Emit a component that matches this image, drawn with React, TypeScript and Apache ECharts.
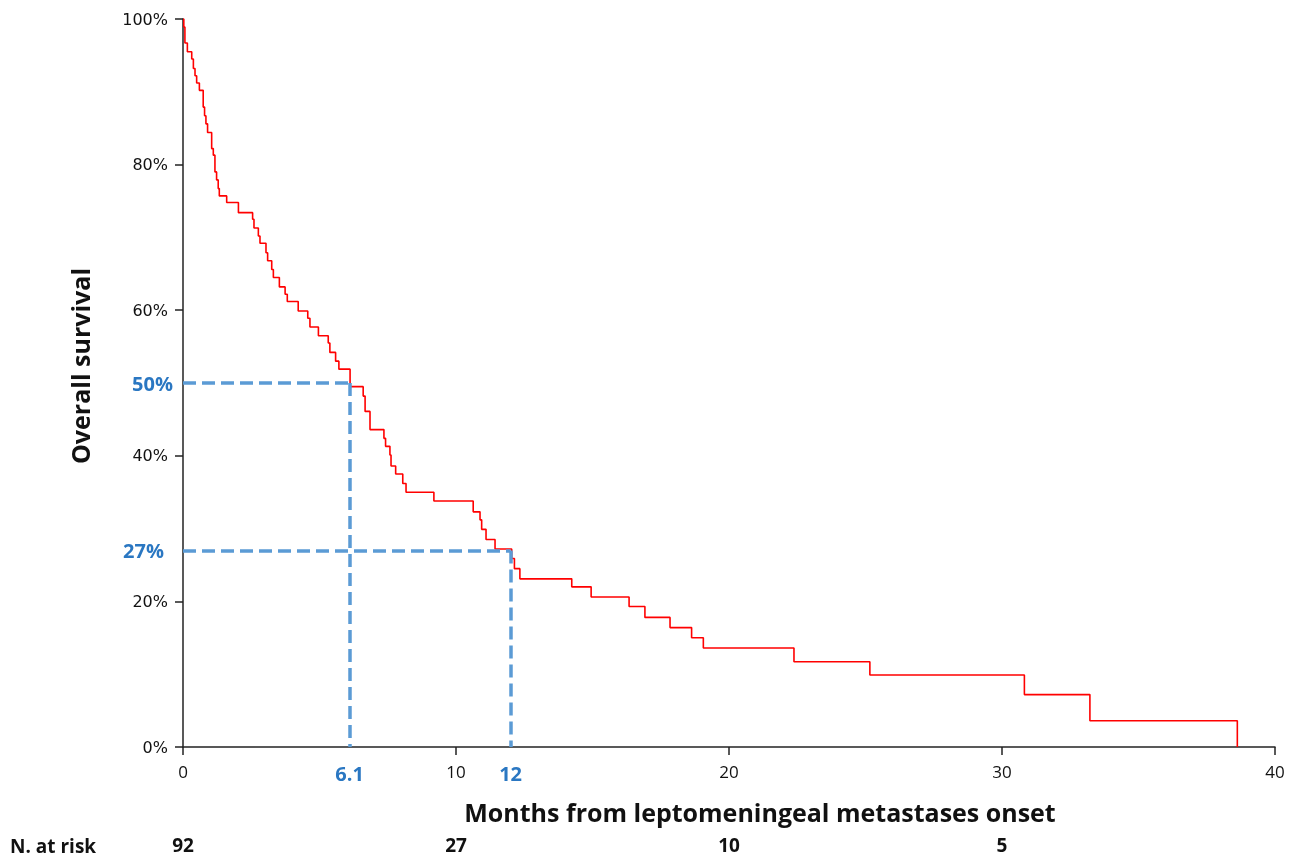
import React, { useEffect, useRef } from "react";
import * as echarts from "echarts";

const times = [0, 0.03, 0.07, 0.16, 0.32, 0.38, 0.44, 0.5, 0.6, 0.74, 0.79, 0.84, 0.9, 1.05, 1.11, 1.17, 1.23, 1.29, 1.33, 1.6, 2.03, 2.55, 2.6, 2.76, 2.82, 3.04, 3.1, 3.25, 3.31, 3.53, 3.74, 3.82, 4.22, 4.57, 4.65, 4.96, 5.32, 5.38, 5.59, 5.71, 6.12, 6.6, 6.67, 6.85, 7.36, 7.42, 7.58, 7.62, 7.79, 8.05, 8.17, 9.19, 10.63, 10.88, 10.94, 11.1, 11.43, 12.04, 12.14, 12.34, 14.24, 14.95, 16.34, 16.92, 17.84, 18.63, 19.06, 22.38, 25.16, 30.82, 33.22, 38.62];
const survival = [100, 98.9, 96.7, 95.5, 94.5, 93.2, 92.2, 91.2, 90.2, 87.9, 86.7, 85.6, 84.4, 82.2, 81.3, 79.0, 77.9, 76.7, 75.7, 74.8, 73.4, 72.5, 71.3, 70.2, 69.2, 67.9, 66.8, 65.6, 64.5, 63.2, 62.2, 61.2, 59.9, 58.9, 57.7, 56.5, 55.5, 54.2, 53.0, 51.9, 49.5, 48.2, 46.1, 43.6, 42.4, 41.3, 40.1, 38.6, 37.5, 36.2, 35.0, 33.8, 32.3, 31.2, 29.9, 28.5, 27.2, 25.9, 24.5, 23.1, 22.0, 20.6, 19.3, 17.8, 16.4, 15.0, 13.6, 11.7, 9.9, 7.2, 3.6, 0];

const medianTime = 6.1;
const medianSurv = 50;
const yearTime = 12;
const yearSurv = 27;

const riskTimes = [0, 10, 20, 30];
const riskCounts = [92, 27, 10, 5];

const xTitle = "Months from leptomeningeal metastases onset";
const yTitle = "Overall survival";
const riskTitle = "N. at risk";

const BLUE_LINE = "#5B9BD5";
const BLUE_TEXT = "#2A77C2";
const BOLD_FONT = "'Open Sans', 'Noto Sans', sans-serif";

export default function App() {
  const ref = useRef<HTMLDivElement>(null);
  useEffect(() => {
    if (!ref.current) return;
    const chart = echarts.init(ref.current, null, { renderer: "svg" });
    const lineStyle = { color: BLUE_LINE, width: 3.5, type: [13, 6] as any };
    const blueLabel = {
      color: BLUE_TEXT,
      fontFamily: BOLD_FONT,
      fontWeight: "bold" as const,
      fontSize: 20,
    };
    chart.setOption({
      animation: false,
      grid: { left: 183, right: 32, top: 19, bottom: 118, containLabel: false },
      xAxis: [
        {
          type: "value",
          min: 0,
          max: 40,
          interval: 10,
          splitLine: { show: false },
          axisLine: { lineStyle: { color: "#222", width: 1.5 } },
          axisTick: { show: true, length: 8, inside: false, lineStyle: { color: "#222", width: 1.5 } },
          axisLabel: { margin: 16, color: "#111", fontSize: 17, fontFamily: "'Open Sans', sans-serif" },
        },
        {
          type: "value",
          position: "bottom",
          offset: 88,
          min: 0,
          max: 40,
          interval: 10,
          splitLine: { show: false },
          axisLine: { show: false },
          axisTick: { show: false },
          axisLabel: {
            margin: 0,
            color: "#111",
            fontSize: 19,
            fontWeight: "bold",
            fontFamily: BOLD_FONT,
            formatter: (v: number) => {
              const i = riskTimes.indexOf(v);
              return i >= 0 ? String(riskCounts[i]) : "";
            },
          },
        },
      ],
      yAxis: {
        type: "value",
        min: 0,
        max: 100,
        interval: 20,
        splitLine: { show: false },
        axisLine: { lineStyle: { color: "#222", width: 1.5 } },
        axisTick: { show: true, length: 8, inside: false, lineStyle: { color: "#222", width: 1.5 } },
        axisLabel: {
          margin: 15,
          color: "#111",
          fontSize: 16,
          fontFamily: "'DejaVu Sans', Verdana, sans-serif",
          formatter: "{value}%",
        },
      },
      series: [
        {
          type: "line",
          step: "end",
          xAxisIndex: 0,
          showSymbol: false,
          symbol: "none",
          lineStyle: { color: "#FF0000", width: 1.6 },
          data: times.map((t, i) => [t, survival[i]]),
          z: 3,
        },
        {
          type: "line",
          xAxisIndex: 0,
          data: [],
          z: 2,
          markLine: {
            silent: true,
            symbol: ["none", "none"],
            animation: false,
            lineStyle,
            data: [
              [
                { coord: [0, medianSurv], label: { show: true, position: "start", formatter: `${medianSurv}%`, distance: 10, ...blueLabel } },
                { coord: [medianTime, medianSurv] },
              ],
              [
                { coord: [medianTime, medianSurv], label: { show: true, position: "end", formatter: `${medianTime}`, distance: 16, ...blueLabel } },
                { coord: [medianTime, 0] },
              ],
              [
                { coord: [0, yearSurv], label: { show: true, position: "start", formatter: `${yearSurv}%`, distance: 19, ...blueLabel } },
                { coord: [yearTime, yearSurv] },
              ],
              [
                { coord: [yearTime, yearSurv], label: { show: true, position: "end", formatter: `${yearTime}`, distance: 16, ...blueLabel } },
                { coord: [yearTime, 0] },
              ],
            ],
          },
        },
      ],
      graphic: [
        {
          type: "text",
          x: 760,
          y: 812,
          style: {
            text: xTitle,
            font: `bold 25px ${BOLD_FONT}`,
            fill: "#111",
            textAlign: "center",
            textVerticalAlign: "middle",
            align: "center",
            verticalAlign: "middle",
          },
        },
        {
          type: "text",
          x: 80,
          y: 366,
          rotation: Math.PI / 2,
          style: {
            text: yTitle,
            font: `bold 25px ${BOLD_FONT}`,
            fill: "#111",
            textAlign: "center",
            textVerticalAlign: "middle",
            align: "center",
            verticalAlign: "middle",
          },
        },
        {
          type: "text",
          x: 10,
          y: 846,
          style: {
            text: riskTitle,
            font: `bold 19px ${BOLD_FONT}`,
            fill: "#111",
            textAlign: "left",
            textVerticalAlign: "middle",
            align: "left",
            verticalAlign: "middle",
          },
        },
      ],
    });
    return () => chart.dispose();
  }, []);
  return <div ref={ref} style={{ position: "fixed", left: 0, top: 0, width: 1307, height: 865 }} />;
}
